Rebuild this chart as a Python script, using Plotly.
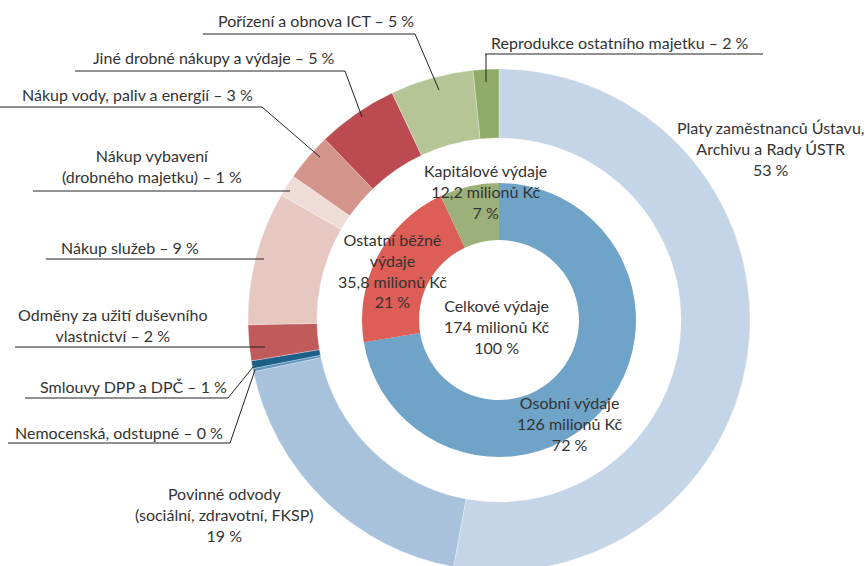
import plotly.graph_objects as go

W, H = 867, 572   # window is 566 tall; the ring is cropped at the bottom as in the reference

# ---------------- data ----------------
inner_labels = ["Osobní výdaje", "Ostatní běžné výdaje", "Kapitálové výdaje"]
inner_values = [126.0, 35.8, 12.2]          # milionů Kč
inner_colors = ["#6fa4c8", "#dd5e56", "#9cb079"]

outer_labels = [
    "Platy zaměstnanců Ústavu, Archivu a Rady ÚSTR",
    "Povinné odvody (sociální, zdravotní, FKSP)",
    "Nemocenská, odstupné",
    "Smlouvy DPP a DPČ",
    "Odměny za užití duševního vlastnictví",
    "Nákup služeb",
    "Nákup vybavení (drobného majetku)",
    "Nákup vody, paliv a energií",
    "Jiné drobné nákupy a výdaje",
    "Pořízení a obnova ICT",
    "Reprodukce ostatního majetku",
]
outer_values = [52.9, 18.8, 0.2, 0.5, 2.3, 8.6, 1.4, 3.1, 5.2, 5.35, 1.65]  # %
outer_colors = ["#c3d5e6", "#a8c2dc", "#5a94bf", "#1c5f88", "#c05a5b", "#e7c8c1",
                "#f0dcd7", "#d3948b", "#bc4b51", "#b5c595", "#8eac68"]

# ---------------- geometry (pixels) ----------------
cx, cy = 499, 320
R_out, R_out_in = 251, 182
R_in, R_in_in = 137, 80


def px(x):
    return x / W


def py(y):
    return 1 - y / H


def dom(r):
    return dict(x=[px(cx - r), px(cx + r)], y=[py(cy + r), py(cy - r)])


fig = go.Figure()
fig.add_trace(go.Pie(
    labels=outer_labels, values=outer_values, hole=R_out_in / R_out,
    sort=False, direction="clockwise", rotation=0,
    marker=dict(colors=outer_colors, line=dict(color="rgba(255,255,255,0.6)", width=0.5)),
    textinfo="none", hoverinfo="label+percent", domain=dom(R_out), showlegend=False,
))
fig.add_trace(go.Pie(
    labels=inner_labels, values=inner_values, hole=R_in_in / R_in,
    sort=False, direction="clockwise", rotation=0,
    marker=dict(colors=inner_colors, line=dict(width=0)),
    textinfo="none", hoverinfo="label+percent", domain=dom(R_in), showlegend=False,
))

FONT = dict(family="Lato, 'Open Sans', sans-serif", size=16, color="#333333")
annots = [
    ("Pořízení a obnova ICT – 5 %", 316, 20),
    ("Reprodukce ostatního majetku – 2 %", 620, 42),
    ("Jiné drobné nákupy a výdaje – 5 %", 214, 58),
    ("Nákup vody, paliv a energií – 3 %", 137, 95),
    ("Nákup vybavení<br>(drobného majetku) – 1 %", 152, 166),
    ("Nákup služeb – 9 %", 130, 247),
    ("Odměny za užití duševního<br>vlastnictví – 2 %", 113, 325),
    ("Smlouvy DPP a DPČ – 1 %", 133, 386),
    ("Nemocenská, odstupné – 0 %", 119, 432),
    ("Povinné odvody<br>(sociální, zdravotní, FKSP)<br>19 %", 225, 514),
    ("Platy zaměstnanců Ústavu,<br>Archivu a Rady ÚSTR<br>53 %", 770, 148),
    ("Kapitálové výdaje<br>12,2 milionů Kč<br>7 %", 485, 191),
    ("Ostatní běžné<br>výdaje<br>35,8 milionů Kč<br>21 %", 392, 270),
    ("Celkové výdaje<br>174 milionů Kč<br>100 %", 497, 326),
    ("Osobní výdaje<br>126 milionů Kč<br>72 %", 570, 423),
]
for text, x, y in annots:
    fig.add_annotation(text=text, x=px(x), y=py(y), xref="paper", yref="paper",
                       xanchor="center", yanchor="middle", showarrow=False,
                       font=FONT, align="center")

# leader lines (polylines in pixel space)
leaders = [
    [(203, 34), (415, 34), (439, 90)],
    [(485, 54), (763, 54)],
    [(486, 54), (486, 82)],
    [(75, 71), (345, 71), (362, 117)],
    [(0, 107), (262, 107), (320, 157)],
    [(33, 191), (290, 191)],
    [(46, 259), (264, 259)],
    [(15, 347), (265, 347)],
    [(25, 398), (228, 398), (253, 367)],
    [(8, 443), (230, 443), (255, 370)],
]
for pts in leaders:
    path = "M " + " L ".join(f"{px(x)},{py(y)}" for x, y in pts)
    fig.add_shape(type="path", path=path, xref="paper", yref="paper",
                  line=dict(color="#222222", width=1))

fig.update_layout(width=W, height=H, margin=dict(l=0, r=0, t=0, b=0),
                  paper_bgcolor="white", plot_bgcolor="white")
fig.write_html("out.html", config={"displayModeBar": False},
               post_script="document.body.style.margin='0';document.body.style.overflow='hidden';")
